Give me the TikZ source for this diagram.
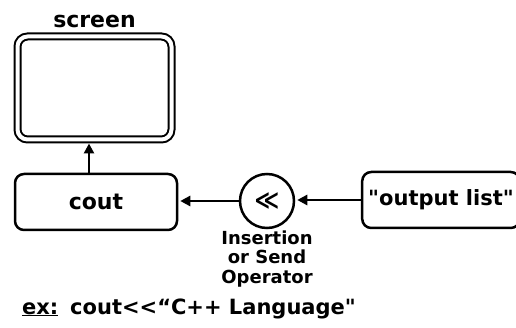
\documentclass[tikz,border=0pt]{standalone}
\usepackage{fontspec}
\newfontfamily\dejavu{DejaVu Sans}
\usetikzlibrary{positioning}
\usetikzlibrary{arrows.meta}

\begin{document}
\begin{tikzpicture}[x=1pt, y=-1pt, >={Triangle[length=10pt, width=10pt]}]
    \tikzset{
        box/.style={draw, line width=2.5pt, rounded corners=9pt,
            font=\dejavu\bfseries\fontsize{22}{24}\selectfont},
        flow/.style={line width=2.7pt, ->},
    }
    \useasboundingbox (0,0) rectangle (516,328);

    % monitor with its double frame
    \node[draw, line width=2pt, double, double distance=4pt, rounded corners=10pt,
          minimum width=154pt, minimum height=103pt] (screen) at (94.5,88) {};
    \node[font=\dejavu\bfseries\fontsize{22}{24}\selectfont, above=4pt of screen] (scrname) {screen};

    \node[box, minimum width=162pt, minimum height=56pt] (cout) at (96,202) {cout};
    \node[draw, circle, line width=2.5pt, minimum size=54pt, inner sep=0pt,
          font=\dejavu\bfseries\fontsize{24}{24}\selectfont] (op) at (267,201) {≪};
    \node[box, minimum height=56pt, inner xsep=6pt,
          font=\dejavu\bfseries\fontsize{21}{24}\selectfont] (outlist) at (441,200) {"output list"};

    \draw[flow, shorten >=3pt] ([xshift=-7pt]cout.north) -- ([xshift=-7pt]cout.north |- screen.south);
    \draw[flow, shorten >=2pt] (op.west) -- (op.west -| cout.east);
    \draw[flow, shorten >=2pt] (outlist.west) -- (outlist.west -| op.east);

    \node[below=1pt of op, align=center, inner sep=0pt,
          font=\dejavu\bfseries\fontsize{18}{19.5}\selectfont] (opname) {Insertion\\or Send\\Operator};

    % example line
    \node[anchor=base west, inner sep=0pt, font=\dejavu\bfseries\fontsize{21}{24}\selectfont] (ex) at (22,314) {\underline{ex:}};
    \node[anchor=base west, inner sep=0pt, font=\dejavu\bfseries\fontsize{21}{24}\selectfont] (code) at (70,314) {cout<<“C++ Language"};
\end{tikzpicture}
\end{document}
